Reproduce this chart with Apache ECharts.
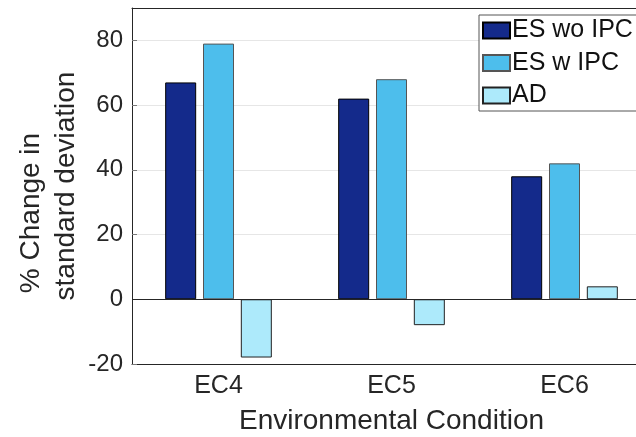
<!DOCTYPE html>
<html>
<head>
<meta charset="utf-8">
<script src="https://cdn.jsdelivr.net/npm/echarts@6/dist/echarts.min.js"></script>
<style>html,body{margin:0;padding:0;background:#fff}#c{width:636px;height:437px}</style>
</head>
<body>
<div id="c"></div>
<script>
const categories = ['EC4', 'EC5', 'EC6'];
const seriesNames = ['ES wo IPC', 'ES w IPC', 'AD'];
const esWoIpc = [67, 62, 38];
const esWIpc = [79, 68, 42];
const ad = [-18, -8, 4];
const colors = ['#142A8B', '#4DBEEC', '#ADEAFB'];
const font = 'Liberation Sans, Arial, sans-serif';
const txt = '#262626';

const chart = echarts.init(document.getElementById('c'), null, {renderer: 'canvas'});
const dataSets = [esWoIpc, esWIpc, ad];
const borderCols = ['#000', '#555', '#222'];
chart.setOption({
  animation: false,
  textStyle: {fontFamily: font},
  grid: {left: 132, top: 8, width: 519, bottom: 73, containLabel: false, outerBoundsMode: 'none'},
  legend: {
    orient: 'vertical', left: 479, top: 15,
    padding: [3, 40, 3, 3], itemGap: 7.5, itemWidth: 27, itemHeight: 16,
    backgroundColor: '#fff', borderColor: '#555', borderWidth: 1,
    textStyle: {fontSize: 25, lineHeight: 25, color: '#111', fontFamily: font, padding: [0, 0, 0, -3]},
    data: seriesNames,
    icon: 'rect'
  },
  xAxis: [{
    type: 'category', data: categories, position: 'bottom',
    axisLine: {onZero: false, lineStyle: {color: '#262626', width: 1}},
    axisTick: {alignWithLabel: true, inside: true, length: 5, lineStyle: {color: '#777'}},
    axisLabel: {fontSize: 25, color: txt, margin: 10, fontFamily: font},
    name: 'Environmental Condition', nameLocation: 'middle', nameGap: 43, nameMoveOverlap: false,
    nameTextStyle: {fontSize: 28, color: txt, fontFamily: font}
  }, {
    type: 'category', data: categories, position: 'top',
    axisLine: {onZero: false, lineStyle: {color: '#262626', width: 1}},
    axisTick: {alignWithLabel: true, inside: true, length: 5, lineStyle: {color: '#777'}},
    axisLabel: {show: false}
  }],
  yAxis: {
    type: 'value', min: -20, max: 90, interval: 20,
    axisLine: {show: true, lineStyle: {color: '#262626', width: 1}},
    axisTick: {show: true, inside: true, length: 5, lineStyle: {color: '#777'}},
    axisLabel: {fontSize: 24, color: txt, margin: 9, showMaxLabel: false, fontFamily: font},
    splitLine: {show: true, lineStyle: {color: '#e6e6e6', width: 1}},
    name: '{a|% Change in}\n{b|standard deviation}', nameLocation: 'middle', nameGap: 48,
    nameMoveOverlap: false,
    nameTextStyle: {
      fontSize: 28, color: txt, lineHeight: 35, fontFamily: font,
      rich: {
        a: {fontSize: 28, color: txt, lineHeight: 35, fontFamily: font, padding: [0, 54, 0, 0]},
        b: {fontSize: 28, color: txt, lineHeight: 35, fontFamily: font}
      }
    }
  },
  series: dataSets.map((d, i) => ({
    name: seriesNames[i], type: 'bar', data: d,
    barWidth: 31, barGap: '22%',
    itemStyle: {color: colors[i], borderColor: borderCols[i], borderWidth: 1},
    markLine: i === 0 ? {
      silent: true, symbol: 'none', label: {show: false},
      lineStyle: {color: '#262626', width: 1, type: 'solid'},
      data: [{yAxis: 0}]
    } : undefined
  }))
});
</script>
</body>
</html>
